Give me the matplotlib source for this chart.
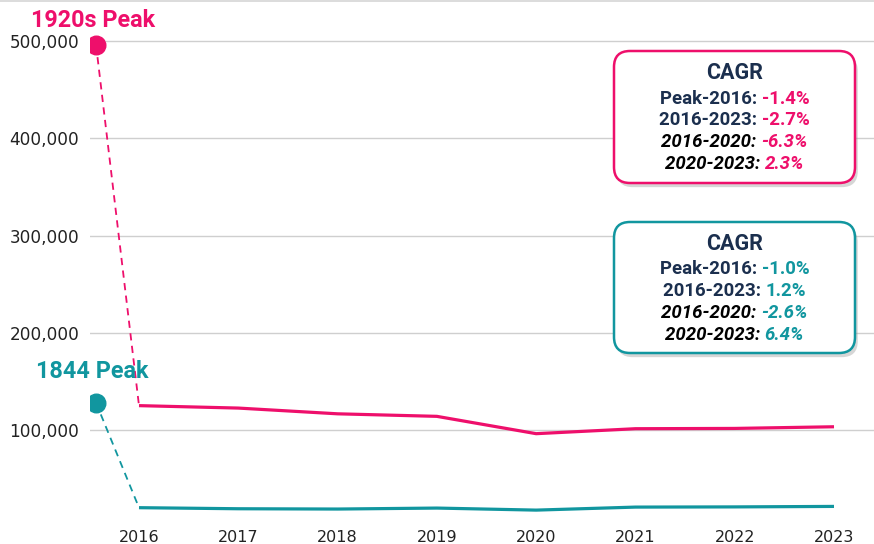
import matplotlib
matplotlib.use("Agg")
import matplotlib.pyplot as plt
from matplotlib.patches import FancyBboxPatch
from matplotlib.transforms import IdentityTransform
import matplotlib.patheffects as pe

PINK = "#EE0F6B"
TEAL = "#11969F"
NAVY = "#1B2F4E"

years = [2016, 2017, 2018, 2019, 2020, 2021, 2022, 2023]
pink_vals = [125400, 122900, 117000, 114400, 96600, 101700, 102000, 103700]
teal_vals = [20600, 19500, 19200, 20200, 18100, 21200, 21400, 21900]
pink_peak = 496200
teal_peak = 128400
pink_peak_label = "1920s Peak"
teal_peak_label = "1844 Peak"

cagr_labels = ["Peak-2016:", "2016-2023:", "2016-2020:", "2020-2023:"]
pink_cagr = ["-1.4%", "-2.7%", "-6.3%", "2.3%"]
teal_cagr = ["-1.0%", "1.2%", "-2.6%", "6.4%"]

W, H = 874, 544
fig = plt.figure(figsize=(W / 100, H / 100), dpi=100)
ax = fig.add_axes([90 / W, (H - 518) / H, 1 - 90 / W, 518 / H])

step = 99.3  # px per year
peak_x = years[0] - 43 / step
ax.plot([peak_x, years[0]], [pink_peak, pink_vals[0]], color=PINK, lw=1.3, ls=(0, (4, 3)))
ax.plot([peak_x, years[0]], [teal_peak, teal_vals[0]], color=TEAL, lw=1.3, ls=(0, (4, 3)))
ax.plot(years, pink_vals, color=PINK, lw=2.3, solid_capstyle="butt")
ax.plot(years, teal_vals, color=TEAL, lw=2.3, solid_capstyle="butt")
ax.plot([peak_x], [pink_peak], "o", color=PINK, ms=13.4, zorder=5)
ax.plot([peak_x], [teal_peak], "o", color=TEAL, ms=13.4, zorder=5)

ax.annotate(pink_peak_label, (peak_x, pink_peak), xytext=(-2, 12.5), textcoords="offset points",
            color=PINK, fontsize=16.8, fontweight="bold", family="Roboto", ha="center", va="baseline")
ax.annotate(teal_peak_label, (peak_x, teal_peak), xytext=(-2.4, 17.6), textcoords="offset points",
            color=TEAL, fontsize=16.8, fontweight="bold", family="Roboto", ha="center", va="baseline")

ax.set_xlim(years[0] - 49 / step, years[-1] + 40 / step)
ax.set_ylim(10000, 542000)
yt = [100000, 200000, 300000, 400000, 500000]
ax.set_yticks(yt)
ax.set_yticklabels([f"{v:,}" for v in yt])
ax.set_xticks(years)
ax.tick_params(length=0, labelcolor="#222222")
ax.tick_params(axis="y", pad=7.7, labelsize=12.2)
ax.tick_params(axis="x", pad=9, labelsize=11.5)
ax.grid(axis="y", color="#cfcfcf", lw=1)
ax.set_axisbelow(True)
for s in ax.spines.values():
    s.set_visible(False)

fig.add_artist(plt.Line2D([0, 1], [1 - 0.8 / H, 1 - 0.8 / H], color="#d6d6d6", lw=1.2,
                          transform=fig.transFigure))

fig.canvas.draw()
renderer = fig.canvas.get_renderer()
ident = IdentityTransform()


def cagr_box(top, bottom, edge, vals):
    left, right = 614, 855
    box = FancyBboxPatch((left, H - bottom), right - left, bottom - top,
                         boxstyle="round,pad=0,rounding_size=16", transform=ident,
                         facecolor="white", edgecolor=edge, lw=1.8, zorder=10,
                         path_effects=[pe.SimplePatchShadow(offset=(2, -3), shadow_rgbFace="#999999", alpha=0.4),
                                       pe.Normal()])
    fig.add_artist(box)
    cx = (left + right) / 2
    fig.text(cx, H - (top + 22), "CAGR", transform=ident, ha="center", va="center",
             fontsize=15.5, fontweight="bold", family="Roboto", color=NAVY, zorder=11)
    for i, (lab, v) in enumerate(zip(cagr_labels, vals)):
        y = H - (top + 47.5 + i * 21.7)
        style = "normal" if i < 2 else "italic"
        lcol = NAVY if i < 2 else "black"
        t1 = fig.text(0, y, lab + " ", transform=ident, ha="left", va="center", fontsize=13.4,
                      fontweight="bold", fontstyle=style, family="Roboto", color=lcol, zorder=11)
        t2 = fig.text(0, y, v, transform=ident, ha="left", va="center", fontsize=13.4,
                      fontweight="bold", fontstyle=style, family="Roboto", color=edge, zorder=11)
        w1 = t1.get_window_extent(renderer).width
        w2 = t2.get_window_extent(renderer).width
        x0 = cx - (w1 + w2) / 2
        t1.set_x(x0)
        t2.set_x(x0 + w1)


cagr_box(51, 183, PINK, pink_cagr)
cagr_box(222, 353, TEAL, teal_cagr)

fig.savefig("out.png", dpi=100)
